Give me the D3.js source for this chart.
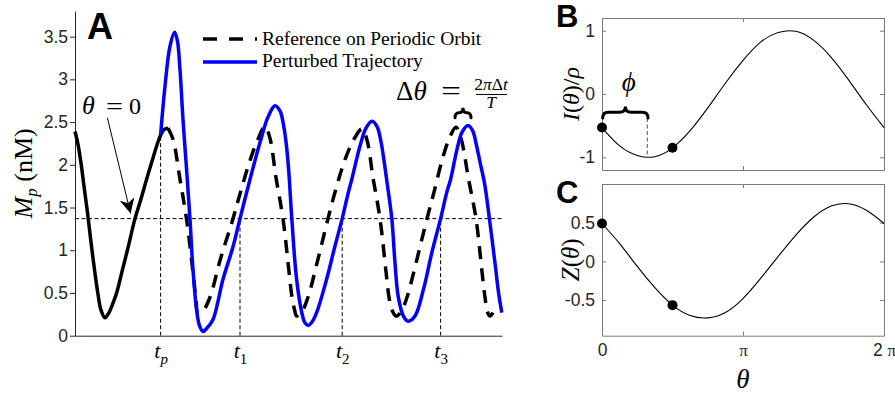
<!DOCTYPE html>
<html>
<head>
<meta charset="utf-8">
<script src="https://cdn.jsdelivr.net/npm/d3@7"></script>
<style>
  body { margin: 0; background: #fff; }
  svg { display: block; background: #fff; }
</style>
</head>
<body>
<svg width="895" height="396"></svg>
<script>
// panel A: Mp (nM) against time (h)
var refTime = [0, 0.75, 1.5, 2.25, 3.1, 4.25, 5.7, 6.5, 7.5, 8.5, 9.4, 10.4, 11.75, 13.1, 15, 16.5, 17.9, 19.5, 21.25, 22.25, 23.25];
var refMp = [2.39, 2.24, 2.02, 1.75, 1.45, 1.0, 0.5, 0.3, 0.21, 0.27, 0.37, 0.5, 0.75, 1.0, 1.37, 1.6, 1.83, 2.08, 2.33, 2.41, 2.43];

var orbitTime = [23.25, 24.5, 26.25, 27.9, 29.5, 30.25, 30.75, 32, 33.75, 36.25, 39.5, 41.25, 43.75, 45.75, 47.5,
    48.75, 50.25, 52, 53.5, 54.25, 54.9, 55.4, 56.7, 58.25, 60.5, 63.25, 65, 67.5, 69.75, 71.75,
    73, 74.5, 76.25, 77.75, 78.5, 79.25, 80.25, 81.5, 83, 85.25, 88, 89.75, 91.75, 93.5, 95.25,
    96.5, 98.4, 100.25, 101.75, 102.5, 103.1, 103.75, 104.5];
var orbitMp = [2.43, 2.30, 1.83, 1.36, 0.74, 0.42, 0.26, 0.29, 0.45, 0.88, 1.37, 1.66, 2.05, 2.3, 2.45,
    2.31, 1.85, 1.37, 0.75, 0.45, 0.3, 0.23, 0.28, 0.45, 0.85, 1.37, 1.68, 2.06, 2.3, 2.42,
    2.29, 1.85, 1.37, 0.75, 0.45, 0.3, 0.23, 0.28, 0.45, 0.85, 1.37, 1.68, 2.05, 2.3, 2.44,
    2.31, 1.83, 1.37, 0.75, 0.45, 0.28, 0.23, 0.27];

var pertTime = [21.4, 22.5, 23.75, 24.9, 25.6, 26.25, 27, 27.9, 28.75, 29.5, 30.4, 31.1, 32, 33, 34.5, 37, 39.5, 41.25, 43.75, 46.25,
    48.25, 50, 51.25, 52, 52.75, 53.4, 54.2, 55.4, 56.7, 57.5, 58.3, 59.25, 60.4, 62.9, 65, 66.8, 68.3, 69.2, 71.25, 72.75,
    74.25, 75.5, 76.5, 77.25, 77.9, 79.2, 80, 80.8, 82.1, 83.3, 85, 87.1, 89.2, 91.4, 92.9, 93.9, 95.5, 96.75, 98.25, 99.4,
    100.4, 101.4, 102.4, 103.6, 105, 105.9, 106.7];
var pertMp = [2.35, 2.92, 3.39, 3.55, 3.45, 3.11, 2.53, 1.94, 1.36, 0.77, 0.3, 0.12, 0.05, 0.09, 0.19, 0.66, 1.04, 1.37, 1.83, 2.26,
    2.56, 2.69, 2.63, 2.5, 2.27, 1.95, 1.37, 0.66, 0.27, 0.15, 0.12, 0.16, 0.27, 0.66, 1.05, 1.37, 1.67, 1.83, 2.22, 2.43,
    2.51, 2.45, 2.27, 2.05, 1.83, 1.37, 0.85, 0.46, 0.23, 0.17, 0.23, 0.54, 0.97, 1.37, 1.67, 1.83, 2.18, 2.38, 2.46, 2.4,
    2.22, 2.0, 1.78, 1.37, 0.85, 0.5, 0.27];

var crossTimes = [21.4, 41.25, 66.8, 91.4];
var crossLabels = ["p", "1", "2", "3"];
var threshold = 1.37;
var mpTicks = [0, 0.5, 1, 1.5, 2, 2.5, 3, 3.5];

// panels B, C: theta in steps of pi/8
var thetaSteps = d3.range(17);
var iRho = [-0.53, -0.82, -0.97, -0.99, -0.85, -0.58, -0.22, 0.17, 0.53, 0.82, 0.97, 0.99, 0.85, 0.58, 0.22, -0.17, -0.53];
var zTheta = [0.49, 0.23, -0.065, -0.34, -0.565, -0.70, -0.73, -0.66, -0.48, -0.22, 0.065, 0.34, 0.57, 0.715, 0.745, 0.66, 0.49];
var dotSteps = [0, 4];
var phiTheta = 1.01, phiMin = -0.99, braceLevel = -0.38;
var iTicks = [-1, 0, 1];
var zTicks = [-0.5, 0, 0.5];
var piTicks = [0, Math.PI, 2 * Math.PI];

var serif = "'Liberation Serif', 'Times New Roman', serif",
    sans = "'Liberation Sans', Arial, sans-serif",
    axisGrey = "#262626";

var svg = d3.select("svg");

svg.append("defs").append("marker")
    .attr("id", "head")
    .attr("viewBox", "0 -5 10 10")
    .attr("refX", 10)
    .attr("refY", 0)
    .attr("markerUnits", "userSpaceOnUse")
    .attr("markerWidth", 15)
    .attr("markerHeight", 15)
    .attr("orient", "auto")
    .append("path")
    .attr("d", "M0,-5L10,0L0,5L3,0Z")
    .attr("fill", "black");

function zip(t, v) {
    return t.map(function (d, i) { return [d, v[i]]; });
}

// curly brace with its tip pointing up
function brace(x0, x1, yb, h) {
    var xm = (x0 + x1) / 2, r = Math.min(h / 2, (x1 - x0) / 4), ym = yb - h / 2;
    return "M" + x0 + "," + yb + "Q" + x0 + "," + ym + " " + (x0 + r) + "," + ym +
        "L" + (xm - r) + "," + ym + "Q" + xm + "," + ym + " " + xm + "," + (yb - h) +
        "Q" + xm + "," + ym + " " + (xm + r) + "," + ym +
        "L" + (x1 - r) + "," + ym + "Q" + x1 + "," + ym + " " + x1 + "," + yb;
}

function mathText(g, px, py, size, parts, anchor) {
    var t = g.append("text")
        .attr("x", px).attr("y", py)
        .attr("font-family", serif)
        .attr("font-size", size)
        .attr("text-anchor", anchor || "start");
    parts.forEach(function (p) {
        t.append("tspan").style("font-style", p[1] ? "italic" : "normal").text(p[0]);
    });
    return t;
}

function styleAxis(g) {
    g.select(".domain").attr("stroke", axisGrey);
    g.selectAll(".tick line").attr("stroke", axisGrey);
    g.selectAll(".tick text").attr("fill", axisGrey);
}

// ---------------- panel A ----------------
var x = d3.scaleLinear().domain([0, 106.75]).range([75, 502]);
var y = d3.scaleLinear().domain([0, 3.8]).range([335.7, 11]);

var line = d3.line()
    .x(function (d) { return x(d[0]); })
    .y(function (d) { return y(d[1]); })
    .curve(d3.curveCatmullRom.alpha(0.5));

var gA = svg.append("g");

// guides
gA.append("line")
    .attr("x1", x(0)).attr("x2", x(106.75))
    .attr("y1", y(threshold)).attr("y2", y(threshold))
    .attr("stroke", "black").attr("stroke-width", 1).attr("stroke-dasharray", "4,2.5");

gA.selectAll(".vguide")
    .data(crossTimes)
    .enter().append("line")
    .attr("class", "vguide")
    .attr("x1", function (d) { return x(d); })
    .attr("x2", function (d) { return x(d); })
    .attr("y1", y(0))
    .attr("y2", function (d, i) { return i === 0 ? y(pertMp[0]) : y(threshold); })
    .attr("stroke", "black").attr("stroke-width", 1).attr("stroke-dasharray", "4,2.5");

// axes
gA.append("g")
    .attr("transform", "translate(" + x.range()[0] + ",0)")
    .call(d3.axisLeft(y).tickValues(mpTicks).tickSize(5).tickSizeOuter(0).tickPadding(2)
        .tickFormat(function (d) { return String(d); }))
    .call(styleAxis)
    .attr("font-family", sans)
    .attr("font-size", 17.5);

gA.append("g")
    .attr("transform", "translate(0," + y.range()[0] + ")")
    .call(d3.axisBottom(x).tickValues(crossTimes).tickSize(0).tickSizeOuter(0).tickPadding(7).tickFormat(""))
    .call(styleAxis)
    .selectAll(".tick text")
    .attr("font-family", serif)
    .attr("font-size", 22)
    .attr("fill", "black")
    .each(function (d, i) {
        var t = d3.select(this);
        t.append("tspan").style("font-style", "italic").text("t");
        t.append("tspan")
            .attr("font-size", 15)
            .attr("dy", "0.35em")
            .style("font-style", i === 0 ? "italic" : "normal")
            .text(crossLabels[i]);
    });

// curves
gA.append("path")
    .datum(zip(orbitTime, orbitMp))
    .attr("d", line)
    .attr("fill", "none")
    .attr("stroke", "black")
    .attr("stroke-width", 3.5)
    .attr("stroke-dasharray", "13,9");

gA.append("path")
    .datum(zip(refTime, refMp))
    .attr("d", line)
    .attr("fill", "none")
    .attr("stroke", "black")
    .attr("stroke-width", 3.5);

gA.append("path")
    .datum(zip(pertTime, pertMp))
    .attr("d", line)
    .attr("fill", "none")
    .attr("stroke", "#0000ff")
    .attr("stroke-width", 3.5);

// legend
var legend = svg.append("g");
legend.append("line")
    .attr("x1", 203).attr("x2", 257).attr("y1", 39).attr("y2", 39)
    .attr("stroke", "black").attr("stroke-width", 3.5).attr("stroke-dasharray", "14,12");
legend.append("line")
    .attr("x1", 203).attr("x2", 257).attr("y1", 62).attr("y2", 62)
    .attr("stroke", "#0000ff").attr("stroke-width", 3.5);
mathText(legend, 262, 45, 19.5, [["Reference on Periodic Orbit", false]]);
mathText(legend, 262, 67, 19.5, [["Perturbed Trajectory", false]]);

// annotations
mathText(gA, 82, 114, 26, [["θ", true]]);
mathText(gA, 106, 114, 24, [["=", false]]).attr("textLength", 17).attr("lengthAdjust", "spacingAndGlyphs");
mathText(gA, 129, 114, 24, [["0", false]]);

gA.append("line")
    .attr("x1", x(8.1)).attr("y1", y(2.55))
    .attr("x2", x(13.9)).attr("y2", y(1.43))
    .attr("stroke", "black").attr("stroke-width", 1)
    .attr("marker-end", "url(#head)");

mathText(gA, 396, 100, 27, [["Δ", false], ["θ", true]]);
mathText(gA, 441, 100, 27, [["=", false]]).attr("textLength", 20).attr("lengthAdjust", "spacingAndGlyphs");
mathText(gA, 491, 90, 17.5, [["2", false], ["π", true], ["Δ", false], ["t", true]], "middle");
gA.append("line")
    .attr("x1", 476).attr("x2", 507).attr("y1", 94.5).attr("y2", 94.5)
    .attr("stroke", "black").attr("stroke-width", 1);
mathText(gA, 491, 108, 17.5, [["T", true]], "middle");

gA.append("path")
    .attr("d", brace(x(95), x(99), y(2.55), 10))
    .attr("fill", "none").attr("stroke", "black").attr("stroke-width", 3)
    .attr("stroke-linecap", "round");

gA.append("text")
    .attr("transform", "translate(32," + d3.mean(y.range()) + ") rotate(-90)")
    .attr("text-anchor", "middle")
    .attr("font-family", serif)
    .attr("font-size", 26)
    .call(function (t) {
        t.append("tspan").style("font-style", "italic").text("M");
        t.append("tspan").attr("font-size", 17).attr("dy", "0.3em").style("font-style", "italic").text("p");
        t.append("tspan").attr("dy", "-0.2em").text(" (nM)");
    });

svg.append("text").attr("x", 87).attr("y", 39)
    .attr("font-family", sans).attr("font-weight", "bold").attr("font-size", 36).text("A");

// ---------------- panels B and C ----------------
var xb = d3.scaleLinear().domain([0, 2 * Math.PI]).range([602, 884]);
var yb = d3.scaleLinear().domain([-1.2, 1.2]).range([170, 18]);
var yc = d3.scaleLinear().domain([-0.96, 1.0]).range([335.7, 184]);

function boxAxes(yScale, yTicks, withX) {
    var g = svg.append("g");
    var bottom = g.append("g")
        .attr("transform", "translate(0," + yScale.range()[0] + ")")
        .call(d3.axisBottom(xb).tickValues(piTicks).tickSize(-4).tickSizeOuter(0).tickPadding(8).tickFormat(""));
    g.append("g")
        .attr("transform", "translate(0," + yScale.range()[1] + ")")
        .call(d3.axisTop(xb).tickValues(piTicks).tickSize(-4).tickSizeOuter(0).tickFormat(""));
    g.append("g")
        .attr("transform", "translate(" + xb.range()[0] + ",0)")
        .call(d3.axisLeft(yScale).tickValues(yTicks).tickSize(-4).tickSizeOuter(0).tickPadding(7)
            .tickFormat(function (d) { return String(d); }))
        .attr("font-family", sans)
        .attr("font-size", 17.5);
    g.append("g")
        .attr("transform", "translate(" + xb.range()[1] + ",0)")
        .call(d3.axisRight(yScale).tickValues(yTicks).tickSize(-4).tickSizeOuter(0).tickFormat(""));
    g.selectAll(".domain").attr("stroke", "#7a7a7a");
    g.selectAll(".tick line").attr("stroke", "#7a7a7a");
    g.selectAll(".tick text").attr("fill", axisGrey);
    if (withX) {
        bottom.selectAll(".tick text")
            .attr("fill", axisGrey)
            .each(function (d, i) {
                var t = d3.select(this);
                if (i === 0) {
                    t.attr("font-family", sans).attr("font-size", 17.5).text("0");
                } else if (i === 1) {
                    t.attr("font-family", serif).attr("font-size", 17).text("π");
                } else {
                    t.attr("font-size", 17.5);
                    t.append("tspan").attr("font-family", sans).text("2 ");
                    t.append("tspan").attr("font-family", serif).attr("font-size", 17).text("π");
                }
            });
    }
    return g;
}

var lineB = d3.line()
    .x(function (d) { return xb(d * Math.PI / 8); })
    .y(function (d, i) { return yb(iRho[i]); })
    .curve(d3.curveNatural);
var lineC = d3.line()
    .x(function (d) { return xb(d * Math.PI / 8); })
    .y(function (d, i) { return yc(zTheta[i]); })
    .curve(d3.curveNatural);

// B
var gB = boxAxes(yb, iTicks, false);
gB.append("line")
    .attr("x1", xb(phiTheta)).attr("x2", xb(phiTheta))
    .attr("y1", yb(braceLevel)).attr("y2", yb(phiMin))
    .attr("stroke", "#6e6e6e").attr("stroke-width", 1.2).attr("stroke-dasharray", "4,2.5");
gB.append("path")
    .datum(thetaSteps)
    .attr("d", lineB)
    .attr("fill", "none").attr("stroke", "black").attr("stroke-width", 1.1);
gB.selectAll(".dot")
    .data(dotSteps)
    .enter().append("circle")
    .attr("class", "dot")
    .attr("cx", function (d) { return xb(d * Math.PI / 8); })
    .attr("cy", function (d) { return yb(iRho[d]); })
    .attr("r", 5)
    .attr("fill", "black");
gB.append("path")
    .attr("d", brace(xb(0) + 0.7, xb(phiTheta) + 0.7, yb(braceLevel), 11.6))
    .attr("fill", "none").attr("stroke", "black").attr("stroke-width", 3)
    .attr("stroke-linecap", "round");
mathText(gB, xb(phiTheta / 2) + 4, 91, 27, [["ϕ", true]], "middle");

gB.append("text")
    .attr("transform", "translate(579," + d3.mean(yb.range()) + ") rotate(-90)")
    .attr("text-anchor", "middle")
    .attr("font-family", serif)
    .attr("font-size", 24)
    .call(function (t) {
        t.append("tspan").style("font-style", "italic").text("I");
        t.append("tspan").text("(");
        t.append("tspan").style("font-style", "italic").text("θ");
        t.append("tspan").text(")/");
        t.append("tspan").style("font-style", "italic").text("ρ");
    });
svg.append("text").attr("x", 556).attr("y", 27)
    .attr("font-family", sans).attr("font-weight", "bold").attr("font-size", 31).text("B");

// C
var gC = boxAxes(yc, zTicks, true);
gC.append("path")
    .datum(thetaSteps)
    .attr("d", lineC)
    .attr("fill", "none").attr("stroke", "black").attr("stroke-width", 1.1);
gC.selectAll(".dot")
    .data(dotSteps)
    .enter().append("circle")
    .attr("class", "dot")
    .attr("cx", function (d) { return xb(d * Math.PI / 8); })
    .attr("cy", function (d) { return yc(zTheta[d]); })
    .attr("r", 5)
    .attr("fill", "black");
gC.append("text")
    .attr("transform", "translate(579," + d3.mean(yc.range()) + ") rotate(-90)")
    .attr("text-anchor", "middle")
    .attr("font-family", serif)
    .attr("font-size", 25)
    .call(function (t) {
        t.append("tspan").style("font-style", "italic").text("Z");
        t.append("tspan").text("(");
        t.append("tspan").style("font-style", "italic").text("θ");
        t.append("tspan").text(")");
    });
mathText(gC, d3.mean(xb.range()), 388, 27, [["θ", true]], "middle");
svg.append("text").attr("x", 556).attr("y", 203)
    .attr("font-family", sans).attr("font-weight", "bold").attr("font-size", 31).text("C");
</script>
</body>
</html>
